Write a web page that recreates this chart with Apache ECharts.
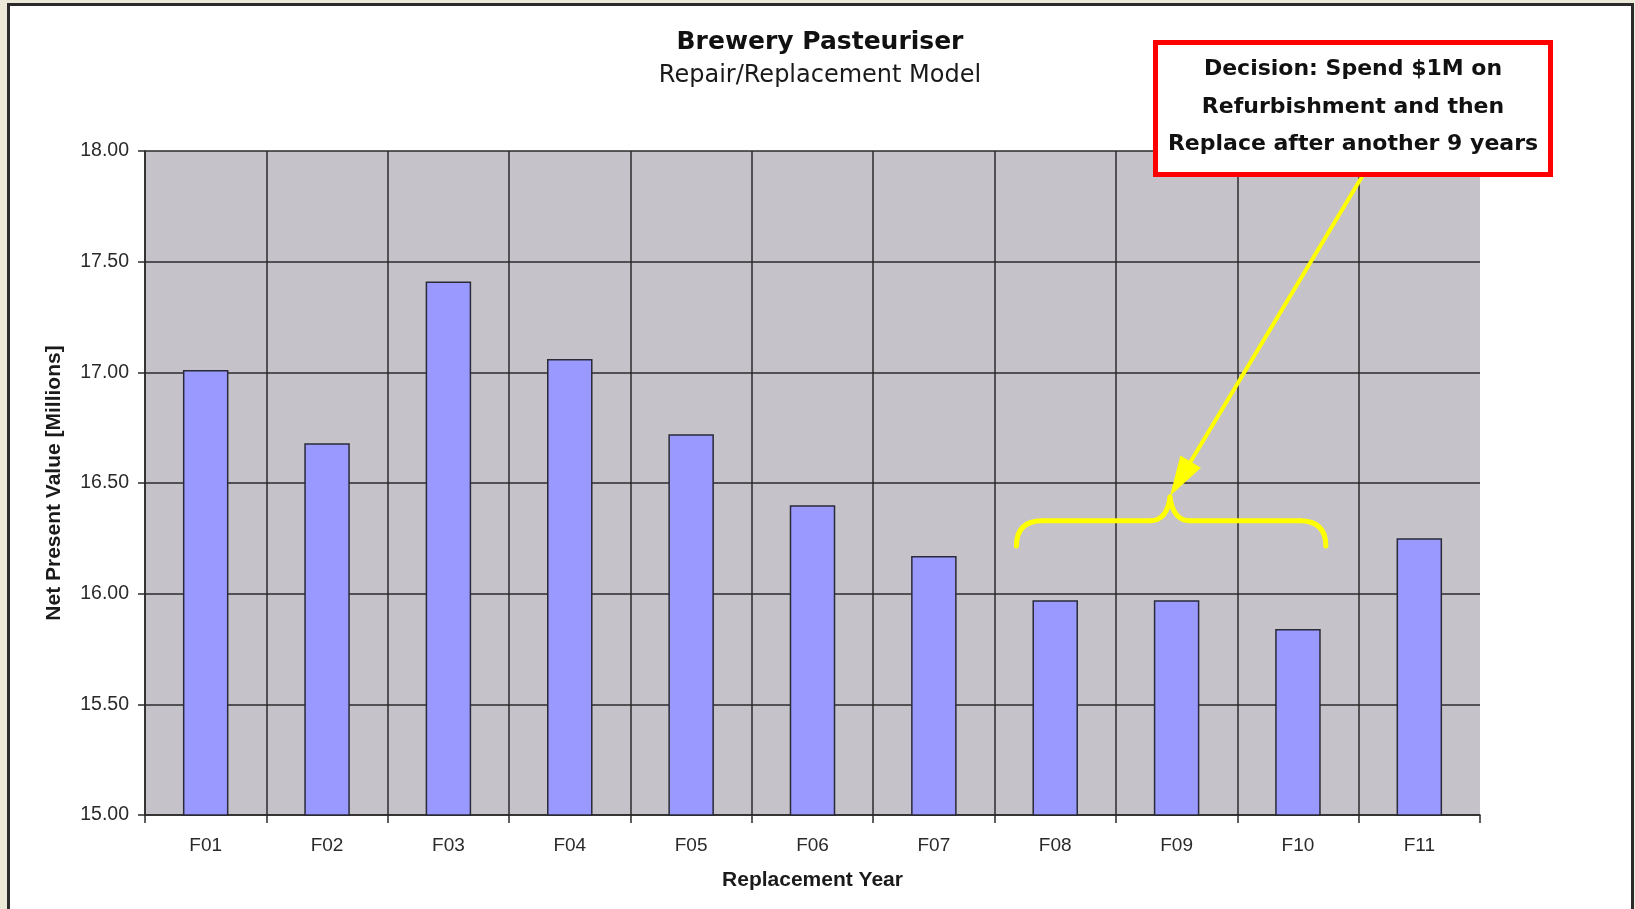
<!DOCTYPE html>
<html><head><meta charset="utf-8">
<script src="https://cdn.jsdelivr.net/npm/echarts@6/dist/echarts.min.js"></script>
<style>
html,body{margin:0;padding:0;background:#ECE9D8;overflow:hidden;}
#frame{position:absolute;left:7px;top:3px;width:1621px;height:940px;border:3px solid #2b2b2b;background:#fff;}
#chart{position:absolute;left:0;top:0;width:1635px;height:909px;}
</style></head><body>
<div id="frame"></div><div id="chart"></div>
<script>
// ---- data ----
const categories = ['F01','F02','F03','F04','F05','F06','F07','F08','F09','F10','F11'];
const npvValues = [17.01, 16.68, 17.41, 17.06, 16.72, 16.40, 16.17, 15.97, 15.97, 15.84, 16.25];
const yMin = 15, yMax = 18, yStep = 0.5;
const titleText = 'Brewery Pasteuriser';
const subtitleText = 'Repair/Replacement Model';
const xAxisTitle = 'Replacement Year';
const yAxisTitle = 'Net Present Value [Millions]';
const annotationLines = ['Decision: Spend $1M on', 'Refurbishment and then', 'Replace after another 9 years'];

const axisFont = 'Liberation Sans, Arial, sans-serif';
const chart = echarts.init(document.getElementById('chart'), null, {renderer: 'canvas'});

const option = {
  backgroundColor: 'transparent',
  animation: false,
  title: {
    text: titleText,
    subtext: subtitleText,
    left: 815,
    top: 25,
    textAlign: 'center',
    itemGap: 9,
    textStyle: {fontFamily: 'DejaVu Sans', fontWeight: 'bold', fontSize: 25, color: '#111'},
    subtextStyle: {fontFamily: 'DejaVu Sans', fontWeight: 'normal', fontSize: 24, color: '#1a1a1a'}
  },
  grid: {
    left: 145, right: 155, top: 151, bottom: 94,
    show: true, backgroundColor: '#c5c3c9', borderWidth: 0
  },
  xAxis: {
    type: 'category',
    data: categories,
    boundaryGap: true,
    name: xAxisTitle,
    nameLocation: 'middle',
    nameGap: 55,
    nameTextStyle: {fontFamily: axisFont, fontWeight: 'bold', fontSize: 21, color: '#1a1a1a'},
    axisLine: {show: true, lineStyle: {color: '#2a2a2a', width: 1.5}},
    axisTick: {show: true, length: 8, interval: 0, lineStyle: {color: '#2a2a2a', width: 1.5}},
    axisLabel: {fontFamily: axisFont, fontSize: 19, color: '#2a2a2a', margin: 21, interval: 0},
    splitLine: {show: true, interval: 0, showMaxLine: false, lineStyle: {color: '#2a2a2a', width: 1.5}}
  },
  yAxis: {
    type: 'value',
    min: yMin, max: yMax, interval: yStep,
    name: yAxisTitle,
    nameLocation: 'middle',
    nameGap: 80,
    nameRotate: 90,
    nameTextStyle: {fontFamily: axisFont, fontWeight: 'bold', fontSize: 21, color: '#1a1a1a'},
    axisLine: {show: true, lineStyle: {color: '#2a2a2a', width: 1.5}},
    axisTick: {show: true, length: 7, lineStyle: {color: '#2a2a2a', width: 1.5}},
    axisLabel: {fontFamily: axisFont, fontSize: 19.5, color: '#2a2a2a', margin: 16,
      formatter: v => v.toFixed(2)},
    splitLine: {show: true, lineStyle: {color: '#2a2a2a', width: 1.5}}
  },
  series: [{
    type: 'bar',
    data: npvValues,
    barWidth: '37.5%',
    itemStyle: {color: '#9999ff', borderColor: '#2a2a38', borderWidth: 1.5}
  }]
};
chart.setOption(option);

// ---- annotations, positioned from the chart's own scales ----
const c0 = chart.convertToPixel({xAxisIndex: 0}, categories[0]);
const c1 = chart.convertToPixel({xAxisIndex: 0}, categories[1]);
const band = c1 - c0;
function pt(catIdx, frac, val) {
  const p = chart.convertToPixel({gridIndex: 0}, [categories[catIdx], val]);
  return [p[0] + frac * band, p[1]];
}
const L = pt(7, -0.32, 16.215);
const R = pt(9, 0.23, 16.215);
const P = pt(7, 0.946, 16.437);
const Hy = chart.convertToPixel({yAxisIndex: 0}, 16.33);
const r = 26, pr = 20;

const yellow = '#ffff00';
const braceStyle = {fill: null, stroke: yellow, lineWidth: 5, lineCap: 'round'};
const braceParts = [
  {type: 'bezierCurve', shape: {x1: L[0], y1: L[1], cpx1: L[0], cpy1: Hy, x2: L[0] + r, y2: Hy}},
  {type: 'line', shape: {x1: L[0] + r, y1: Hy, x2: P[0] - pr, y2: Hy}},
  {type: 'bezierCurve', shape: {x1: P[0] - pr, y1: Hy, cpx1: P[0] - 3, cpy1: Hy, x2: P[0], y2: P[1]}},
  {type: 'bezierCurve', shape: {x1: P[0], y1: P[1], cpx1: P[0] + 3, cpy1: Hy, x2: P[0] + pr, y2: Hy}},
  {type: 'line', shape: {x1: P[0] + pr, y1: Hy, x2: R[0] - r, y2: Hy}},
  {type: 'bezierCurve', shape: {x1: R[0] - r, y1: Hy, cpx1: R[0], cpy1: Hy, x2: R[0], y2: R[1]}}
].map(e => Object.assign(e, {style: braceStyle, z: 50}));

const boxX = 1155.5, boxY = 42.5, boxW = 395, boxH = 132;
const S = [1366, 170];
const T = [P[0], P[1] - 1];
const dx = T[0] - S[0], dy = T[1] - S[1];
const len = Math.hypot(dx, dy);
const u = [dx / len, dy / len], n = [-u[1], u[0]];
const headLen = 40, headHalf = 12;
const B = [T[0] - headLen * u[0], T[1] - headLen * u[1]];

chart.setOption({
  graphic: braceParts.concat([
    {type: 'line', shape: {x1: S[0], y1: S[1], x2: B[0] + 4 * u[0], y2: B[1] + 4 * u[1]}, style: {stroke: yellow, lineWidth: 4}, z: 50},
    {type: 'polygon', shape: {points: [T, [B[0] + headHalf * n[0], B[1] + headHalf * n[1]], [B[0] - headHalf * n[0], B[1] - headHalf * n[1]]]}, style: {fill: yellow}, z: 50},
    {type: 'rect', shape: {x: boxX, y: boxY, width: boxW, height: boxH}, style: {fill: '#ffffff', stroke: '#ff0000', lineWidth: 5}, z: 60},
    {type: 'text', x: boxX + boxW / 2, y: boxY + boxH / 2 - 1.5, z: 61,
      style: {text: annotationLines.join('\n'), fontFamily: 'DejaVu Sans', fontWeight: 'bold', fontSize: 22,
        lineHeight: 37.5, fill: '#111', align: 'center', verticalAlign: 'middle'}}
  ])
});
</script>
</body></html>
